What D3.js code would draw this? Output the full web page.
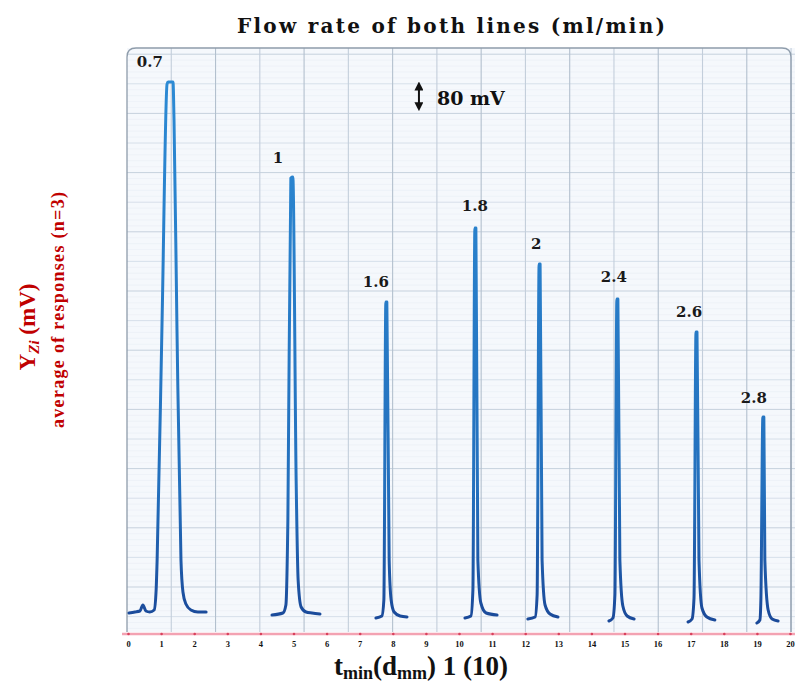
<!doctype html>
<html lang="en">
<head>
<meta charset="utf-8">
<title>Flow rate of both lines</title>
<style>
html, body {
	margin: 0;
	padding: 0;
	background: #fff;
}
svg {
	display: block;
}
.times {
	font-family: 'Liberation Serif', 'Times New Roman', serif;
	font-weight: bold;
}
.wide {
	font-family: 'DejaVu Serif', serif;
	font-weight: bold;
}
</style>
</head>
<body>
<div id="chart"></div>
<script src="https://cdnjs.cloudflare.com/ajax/libs/d3/7.8.5/d3.min.js"></script>
<script>
(function () {
	'use strict';

	/* DATA */

	// flow rate of both lines (ml/min), one peak each
	var flowRates = ['0.7', '1', '1.6', '1.8', '2', '2.4', '2.6', '2.8'];

	// x tick labels
	var xTicks = [0, 1, 2, 3, 4, 5, 6, 7, 8, 9, 10, 11, 12, 13, 14, 15, 16, 17, 18, 19, 20];

	// peak traces: [t, mV]
	var peak07 = [[0.03, 30], [0.21, 33], [0.36, 36], [0.45, 54], [0.54, 36], [0.66, 33], [0.79, 39],
		[0.85, 99], [0.88, 189], [1.03, 909], [1.18, 1617], [1.21, 1623], [1.36, 1623], [1.39, 1509],
		[1.48, 879], [1.60, 189], [1.66, 93], [1.75, 57], [1.90, 39], [2.11, 33], [2.36, 33]];
	var peak10 = [[4.35, 24], [4.68, 30], [4.77, 54], [4.83, 309], [4.92, 1335], [4.98, 1338],
		[5.08, 429], [5.14, 129], [5.23, 48], [5.38, 33], [5.56, 30], [5.80, 27]];
	var peak16 = [[7.49, 15], [7.67, 21], [7.73, 69], [7.79, 963], [7.82, 963], [7.89, 189],
		[7.95, 69], [8.04, 33], [8.22, 21], [8.43, 18]];
	var peak18 = [[10.18, 15], [10.36, 21], [10.42, 99], [10.48, 1185], [10.51, 1185], [10.57, 189],
		[10.66, 60], [10.82, 30], [11.15, 24]];
	var peak20 = [[12.08, 12], [12.30, 18], [12.36, 84], [12.42, 1077], [12.45, 1077], [12.51, 189],
		[12.60, 54], [12.75, 27], [12.99, 18]];
	var peak24 = [[14.53, 6], [14.65, 15], [14.71, 84], [14.77, 972], [14.80, 972], [14.86, 189],
		[14.95, 51], [15.08, 21], [15.29, 12]];
	var peak26 = [[16.92, 3], [17.04, 12], [17.10, 75], [17.16, 873], [17.19, 873], [17.25, 189],
		[17.34, 45], [17.49, 18], [17.73, 9]];
	var peak28 = [[19.00, 0], [19.09, 9], [19.12, 69], [19.18, 618], [19.21, 618], [19.24, 189],
		[19.34, 39], [19.46, 12], [19.64, 6]];

	var peaks = [peak07, peak10, peak16, peak18, peak20, peak24, peak26, peak28];

	// where each flow-rate label sits: [t, mV]
	var labelAt = [[0.66, 1668], [4.53, 1380], [7.49, 1008], [10.48, 1236], [12.33, 1122],
		[14.68, 1023], [16.95, 918], [18.91, 660]];

	// scale bar
	var barMV = 80;
	var barAt = [8.79, 1540];

	/* LAYOUT */

	var W = 795, H = 682;
	var paper = { left: 127, right: 795, top: 48, bottom: 632 };

	var x = d3.scaleLinear().domain([0, 20]).range([128, 790]);
	var y = d3.scaleLinear().domain([0, 1800]).range([623, 23]);

	var svg = d3.select('#chart').append('svg')
		.attr('width', W)
		.attr('height', H);

	var defs = svg.append('defs');
	var grad = defs.append('linearGradient')
		.attr('id', 'ink')
		.attr('gradientUnits', 'userSpaceOnUse')
		.attr('x1', 0).attr('x2', 0)
		.attr('y1', 80).attr('y2', 625);
	grad.append('stop').attr('offset', 0).attr('stop-color', '#2c8ad4');
	grad.append('stop').attr('offset', 0.75).attr('stop-color', '#2470bd');
	grad.append('stop').attr('offset', 1).attr('stop-color', '#1a4898');

	var mk = defs.append('marker')
		.attr('id', 'head')
		.attr('viewBox', '0 0 10 10')
		.attr('refX', 5).attr('refY', 5)
		.attr('markerWidth', 4.5).attr('markerHeight', 4.5)
		.attr('orient', 'auto-start-reverse');
	mk.append('path').attr('d', 'M0,0L10,5L0,10z').attr('fill', '#111');

	/* PAPER + GRID */

	svg.append('rect')
		.attr('x', paper.left).attr('y', paper.top)
		.attr('width', paper.right - paper.left)
		.attr('height', paper.bottom - paper.top)
		.attr('fill', '#f5f8fc');

	var grid = svg.append('g');
	var rowH = 59.2, colW = 44.27, topRow = 54.2;

	d3.range(topRow, paper.bottom, rowH / 10).forEach(function (gy, i) {
		var kind = i % 10 === 0 ? 0 : (i % 5 === 0 ? 1 : 2);
		grid.append('line')
			.attr('x1', paper.left).attr('x2', paper.right)
			.attr('y1', gy).attr('y2', gy)
			.attr('stroke', ['#c6d1dd', '#d4dde8', '#e9eef5'][kind])
			.attr('stroke-width', [1, 0.9, 0.6][kind]);
	});

	d3.range(1, 16).forEach(function (k) {
		var gx = paper.left + k * colW;
		grid.append('line')
			.attr('x1', gx).attr('x2', gx)
			.attr('y1', paper.top).attr('y2', paper.bottom)
			.attr('stroke', k % 2 ? '#c3cedb' : '#b3c0ce')
			.attr('stroke-width', 1.1);
	});

	svg.append('path')
		.attr('d', 'M127,632V57Q127,48 136,48H782Q791,48 791,57V632')
		.attr('fill', 'none')
		.attr('stroke', '#8e9cab')
		.attr('stroke-width', 1.3);

	/* PEAKS */

	var line = d3.line()
		.x(function (d) { return x(d[0]); })
		.y(function (d) { return y(d[1]); })
		.curve(d3.curveMonotoneX);

	svg.append('g').selectAll('path')
		.data(peaks)
		.enter().append('path')
		.attr('d', line)
		.attr('fill', 'none')
		.attr('stroke', 'url(#ink)')
		.attr('stroke-width', 3)
		.attr('stroke-linejoin', 'round')
		.attr('stroke-linecap', 'round');

	/* LABELS */

	svg.append('g').selectAll('text')
		.data(flowRates)
		.enter().append('text')
		.attr('class', 'wide')
		.attr('x', function (d, i) { return x(labelAt[i][0]); })
		.attr('y', function (d, i) { return y(labelAt[i][1]); })
		.attr('text-anchor', 'middle')
		.attr('font-size', 15)
		.attr('fill', '#1a1a1a')
		.text(function (d) { return d; });

	// 80 mV scale bar
	svg.append('line')
		.attr('x1', x(barAt[0])).attr('x2', x(barAt[0]))
		.attr('y1', y(barAt[1]) - 3).attr('y2', y(barAt[1] + barMV) + 3)
		.attr('stroke', '#111')
		.attr('stroke-width', 2)
		.attr('marker-start', 'url(#head)')
		.attr('marker-end', 'url(#head)');

	svg.append('text')
		.attr('class', 'wide')
		.attr('x', x(barAt[0]) + 18)
		.attr('y', y(barAt[1]) - 5)
		.attr('font-size', 19)
		.attr('fill', '#111')
		.text(barMV + ' mV');

	/* AXIS */

	svg.append('line')
		.attr('x1', 122).attr('x2', 795)
		.attr('y1', 634).attr('y2', 634)
		.attr('stroke', '#f3a2b2')
		.attr('stroke-width', 2.6);

	var gAxis = svg.append('g')
		.attr('transform', 'translate(0,634)')
		.call(d3.axisBottom(x).tickValues(xTicks).tickSize(0).tickPadding(7));
	gAxis.select('.domain').remove();
	gAxis.selectAll('.tick').append('circle')
		.attr('r', 1.3)
		.attr('fill', '#d8415c');
	gAxis.selectAll('.tick text')
		.attr('class', 'times')
		.attr('font-size', 8.5)
		.attr('fill', '#111');

	/* TITLES */

	svg.append('text')
		.attr('class', 'wide')
		.attr('x', 451).attr('y', 33)
		.attr('text-anchor', 'middle')
		.attr('font-size', 20)
		.attr('textLength', 428)
		.attr('fill', '#111')
		.text('Flow rate of both lines (ml/min)');

	var xt = svg.append('text')
		.attr('class', 'times')
		.attr('x', 421).attr('y', 675)
		.attr('text-anchor', 'middle')
		.attr('font-size', 27)
		.attr('fill', '#111');
	xt.append('tspan').text('t');
	xt.append('tspan').attr('font-size', 18).attr('dy', 4).text('min');
	xt.append('tspan').attr('dy', -4).text('(d');
	xt.append('tspan').attr('font-size', 18).attr('dy', 4).text('mm');
	xt.append('tspan').attr('dy', -4).text(') 1 (10)');

	var yt = svg.append('text')
		.attr('class', 'times')
		.attr('transform', 'translate(35,327) rotate(-90)')
		.attr('text-anchor', 'middle')
		.attr('font-size', 23)
		.attr('fill', '#c00000');
	yt.append('tspan').text('Y');
	yt.append('tspan').attr('font-size', 15).attr('font-style', 'italic').attr('dy', 4).text('Zi');
	yt.append('tspan').attr('dy', -4).text(' (mV)');

	svg.append('text')
		.attr('class', 'times')
		.attr('transform', 'translate(64,310) rotate(-90)')
		.attr('text-anchor', 'middle')
		.attr('font-size', 18)
		.attr('textLength', 236)
		.attr('fill', '#c00000')
		.text('average of responses (n=3)');
})();
</script>
</body>
</html>
